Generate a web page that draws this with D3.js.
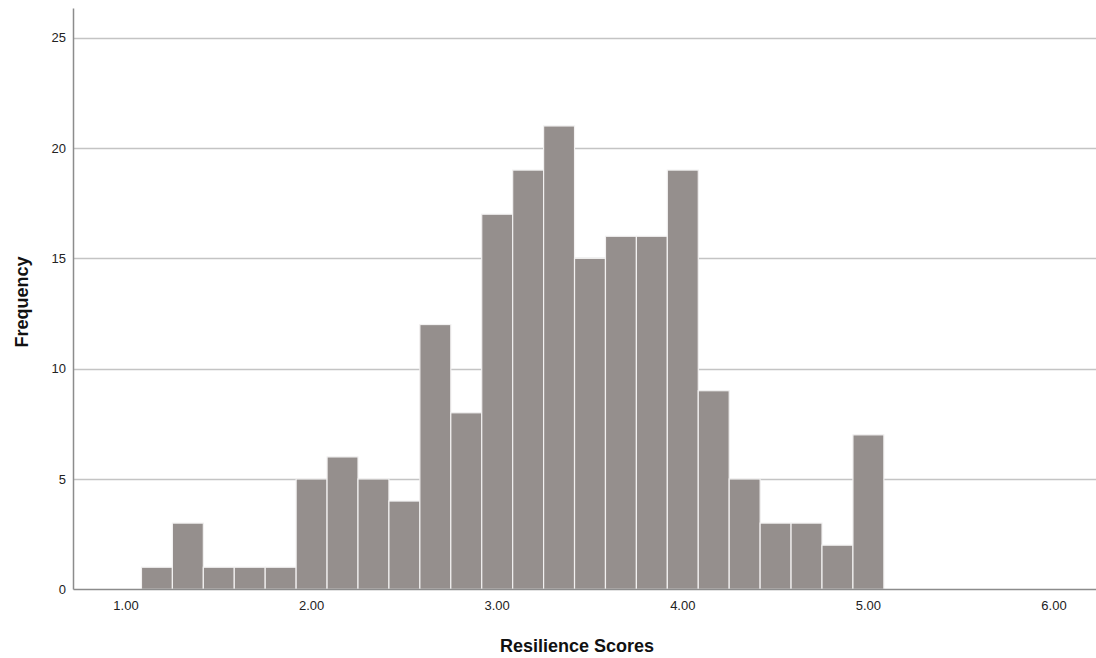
<!DOCTYPE html>
<html><head><meta charset="utf-8">
<script src="https://cdn.jsdelivr.net/npm/d3@7"></script>
<style>body{margin:0;background:#fff}svg{display:block}</style>
</head><body>
<svg id="c" width="1096" height="658"></svg>
<script>
const binStart = 13/12;          // first bin lower edge
const binWidth = 1/6;
const counts = [1, 3, 1, 1, 1, 5, 6, 5, 4, 12, 8, 17, 19, 21, 15, 16, 16, 19, 9, 5, 3, 3, 2, 7];
const xTicks = [1, 2, 3, 4, 5, 6];
const yTicks = [0, 5, 10, 15, 20, 25];
const xLabel = "Resilience Scores";
const yLabel = "Frequency";

(function () {
const bins = counts.map((c, i) => ({x0: binStart + i*binWidth, x1: binStart + (i+1)*binWidth, n: c}));

const svg = d3.select("#c");
const pL = 73.5, pR = 1096, pT = 8.5, pB = 589.5;
const x = d3.scaleLinear().domain([1, 6]).range([126, 1054]);
const y = d3.scaleLinear().domain([0, 25]).range([589.3, 37.7]);
const font = "'Liberation Sans', Arial, sans-serif";

// gridlines
svg.append("g").selectAll("line").data(yTicks.filter(d => d > 0)).join("line")
  .attr("x1", pL).attr("x2", pR)
  .attr("y1", d => Math.round(y(d)) + 0.5).attr("y2", d => Math.round(y(d)) + 0.5)
  .attr("stroke", "#c4c4c4").attr("stroke-width", 1.5);

// bars
svg.append("g").selectAll("rect").data(bins).join("rect")
  .attr("x", d => x(d.x0)).attr("width", d => x(d.x1) - x(d.x0))
  .attr("y", d => y(d.n)).attr("height", d => y(0) - y(d.n))
  .attr("fill", "#958f8d").attr("stroke", "#f2f1f1").attr("stroke-width", 1.2);

// axes lines
svg.append("line").attr("x1", pL).attr("x2", pL).attr("y1", pT).attr("y2", pB)
  .attr("stroke", "#8c8c8c").attr("stroke-width", 1.5);
svg.append("line").attr("x1", pL).attr("x2", pR).attr("y1", pB).attr("y2", pB)
  .attr("stroke", "#8c8c8c").attr("stroke-width", 1.5);

// y tick labels
svg.append("g").selectAll("text").data(yTicks).join("text")
  .attr("x", 66).attr("y", d => y(d)).attr("dy", "0.35em")
  .attr("text-anchor", "end").attr("font-family", font).attr("font-size", 13).attr("fill", "#222")
  .text(d => d);

// x tick labels
svg.append("g").selectAll("text").data(xTicks).join("text")
  .attr("x", d => x(d)).attr("y", 610)
  .attr("text-anchor", "middle").attr("font-family", font).attr("font-size", 13).attr("fill", "#222")
  .text(d => d3.format(".2f")(d));

// axis titles
svg.append("text").attr("x", 577).attr("y", 652).attr("text-anchor", "middle")
  .attr("font-family", font).attr("font-size", 18).attr("font-weight", "bold").attr("fill", "#111")
  .text(xLabel);
svg.append("text").attr("transform", "translate(28,302) rotate(-90)").attr("text-anchor", "middle")
  .attr("font-family", font).attr("font-size", 18).attr("font-weight", "bold").attr("fill", "#111")
  .text(yLabel);
})();
</script>
</body></html>
